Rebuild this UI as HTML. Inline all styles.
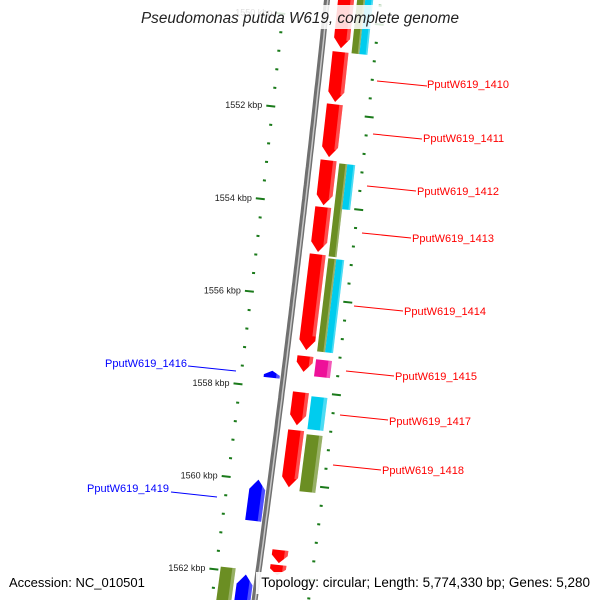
<!DOCTYPE html>
<html><head><meta charset="utf-8"><style>
html,body{margin:0;padding:0;background:#fff;overflow:hidden;width:600px;height:600px}
svg{display:block;font-family:"Liberation Sans","DejaVu Sans",sans-serif}
</style></head><body>
<svg id="map" width="600" height="600" viewBox="0 0 600 600" xmlns="http://www.w3.org/2000/svg">
<g id="backbone"></g>
<g id="ticks"></g>
<g id="genes"></g>
<g id="labels">
<line x1="377" y1="81" x2="427" y2="86" stroke="#f00" stroke-width="1"/>
<text x="427" y="88" font-size="11" fill="#f00">PputW619_1410</text>
<line x1="373" y1="134" x2="422" y2="139" stroke="#f00" stroke-width="1"/>
<text x="423" y="142" font-size="11" fill="#f00">PputW619_1411</text>
<line x1="367" y1="186" x2="416" y2="191" stroke="#f00" stroke-width="1"/>
<text x="417" y="195" font-size="11" fill="#f00">PputW619_1412</text>
<line x1="362" y1="233" x2="411" y2="238" stroke="#f00" stroke-width="1"/>
<text x="412" y="242" font-size="11" fill="#f00">PputW619_1413</text>
<line x1="354" y1="306" x2="403" y2="311" stroke="#f00" stroke-width="1"/>
<text x="404" y="315" font-size="11" fill="#f00">PputW619_1414</text>
<line x1="346" y1="371" x2="394" y2="376" stroke="#f00" stroke-width="1"/>
<text x="395" y="380" font-size="11" fill="#f00">PputW619_1415</text>
<line x1="340" y1="415" x2="388" y2="420" stroke="#f00" stroke-width="1"/>
<text x="389" y="425" font-size="11" fill="#f00">PputW619_1417</text>
<line x1="333" y1="465" x2="381" y2="470" stroke="#f00" stroke-width="1"/>
<text x="382" y="474" font-size="11" fill="#f00">PputW619_1418</text>
<line x1="188" y1="366" x2="236" y2="371" stroke="#00f" stroke-width="1"/>
<text x="187" y="367" font-size="11" fill="#00f" text-anchor="end">PputW619_1416</text>
<line x1="171" y1="492" x2="217" y2="497" stroke="#00f" stroke-width="1"/>
<text x="169" y="492" font-size="11" fill="#00f" text-anchor="end">PputW619_1419</text>
</g>
<rect x="138" y="5" width="324" height="24" fill="#fff" opacity="0.85"/>
<text x="300" y="23" font-size="15.3" font-style="italic" fill="#222" text-anchor="middle">Pseudomonas putida W619, complete genome</text>
<rect x="256" y="572" width="338" height="22" fill="#fff" opacity="0.9"/>
<text x="9" y="587" font-size="13" fill="#000">Accession: NC_010501</text>
<text x="590" y="587" font-size="13.5" fill="#000" text-anchor="end">Topology: circular; Length: 5,774,330 bp; Genes: 5,280</text>
</svg>
<script>
// gene data (kbp)
const fwdStarts = [1549.45,1550.68,1551.81,1553.02,1554.03,1555.05,1557.25,1558.03,1558.85,1561.44,1561.76];
const fwdEnds   = [1550.60,1551.76,1552.95,1553.99,1555.00,1557.12,1557.59,1558.74,1560.08,1561.72,1561.98];
const hitStarts = [1549.45,1549.45,1553.06,1553.06,1555.11,1555.11,1557.29,1558.09,1558.91];
const hitEnds   = [1550.68,1550.68,1555.07,1554.03,1557.12,1557.12,1557.66,1558.80,1560.14];
const hitColors = ["olive","cyan","olive","cyan","olive","cyan","pink","cyan","olive"];
const hitLanes  = ["left","right","left","right","left","right","full","full","full"];
const revStarts = [1557.64,1559.99,1562.04];
const revEnds   = [1557.79,1560.88,1562.73];
const revHitStarts = [1561.93];
const revHitEnds   = [1562.73];
const tickStart = 1549.2, tickEnd = 1563.2, tickStep = 0.4;
const majorLabels = [1550,1552,1554,1556,1558,1560,1562];

const NS = "http://www.w3.org/2000/svg";
const PX = 46.3;
function along(k){ return (k-1552)*PX/0.994; }
function pt(k, off){
  const s = along(k);
  const bx = 315 - 0.11*s - 2.6e-5*s*s;
  const by = 111 + 0.994*s;
  return [bx + off*0.994, by + off*0.11];
}
function mk(tag, attrs, parent){
  const e = document.createElementNS(NS, tag);
  for (const k in attrs) e.setAttribute(k, attrs[k]);
  parent.appendChild(e); return e;
}
const colorMap = {red:"#ff0000", olive:"#6b8e23", cyan:"#00ccee", pink:"#ee1199", blue:"#0000ff"};

// backbone
const bbG = document.getElementById("backbone");
let d = "";
for (let k = 1549; k <= 1563.5; k += 0.1){ const p = pt(k,0); d += (d?"L":"M")+p[0].toFixed(1)+","+p[1].toFixed(1); }
const bb1 = mk("path",{d:d,stroke:"#707070","stroke-width":6,fill:"none"},bbG);


const bb2 = mk("path",{d:d,stroke:"#c8c8c8","stroke-width":1.5,fill:"none",transform:"translate(0.8,0)"},bbG);



// ticks
const tG = document.getElementById("ticks");
for (let i = 0; tickStart + i*tickStep <= tickEnd; i++){
  const k = tickStart + i*tickStep;
  const major = Math.abs(k/2 - Math.round(k/2)) < 1e-6;
  const a1 = pt(k, major?-49:-44), a2 = pt(k, major?-40:-41);
  const ti = mk("line",{x1:a1[0],y1:a1[1],x2:a2[0],y2:a2[1],stroke:"#1a7a1a","stroke-width":2},tG);
  
  
  const b1 = pt(k, major?50:52), b2 = pt(k, major?59:55);
  const to = mk("line",{x1:b1[0],y1:b1[1],x2:b2[0],y2:b2[1],stroke:"#1a7a1a","stroke-width":2},tG);
  
  
}
majorLabels.forEach(k=>{
  const p = pt(k,-53);
  const t = mk("text",{x:p[0],y:p[1]+3,"font-size":9,fill:"#222","text-anchor":"end"},tG);
  t.textContent = k+" kbp";
  
  
});

// genes
const gG = document.getElementById("genes");
function gene(ks, ke, o1, o2, color, dir, name){
  const len = along(ke)-along(ks);
  const head = Math.min(10, len*0.6);
  let pts;
  const mid = (o1+o2)/2;
  if (dir > 0){
    const kh = ks + (ke-ks)*(len-head)/len;
    pts = [pt(ks,o1),pt(ks,o2),pt(kh,o2),pt(ke,mid),pt(kh,o1)];
  } else if (dir < 0){
    const kh = ks + (ke-ks)*head/len;
    pts = [pt(ks,mid),pt(kh,o2),pt(ke,o2),pt(ke,o1),pt(kh,o1)];
  } else {
    pts = [pt(ks,o1),pt(ks,o2),pt(ke,o2),pt(ke,o1)];
  }
  const g = mk("g",{},gG);
  
  
  mk("polygon",{points:pts.map(p=>p[0].toFixed(1)+","+p[1].toFixed(1)).join(" "),fill:colorMap[color]},g);
  const w = (o2-o1)*0.22;
  const hs = [pt(ks,o2-w),pt(ks,o2),pt(dir>0?ks+(ke-ks)*0.85:ke,o2),pt(dir>0?ks+(ke-ks)*0.85:ke,o2-w)];
  mk("polygon",{points:hs.map(p=>p[0].toFixed(1)+","+p[1].toFixed(1)).join(" "),fill:"#fff",opacity:0.3},g);
}
fwdStarts.forEach((s,i)=>gene(s,fwdEnds[i],11,27,"red",1,"forward-gene-"+i));
hitStarts.forEach((s,i)=>{
  let o1=30,o2=46;
  if (hitLanes[i]==="left") o2=38;
  if (hitLanes[i]==="right") o1=38;
  gene(s,hitEnds[i],o1,o2,hitColors[i],0,"hit-"+hitColors[i]+"-"+i);
});
revStarts.forEach((s,i)=>gene(s,revEnds[i],-20,-4,"blue",-1,"reverse-gene-"+i));
revHitStarts.forEach((s,i)=>gene(s,revHitEnds[i],-38,-23,"olive",0,"reverse-hit-"+i));
</script>
</body></html>
